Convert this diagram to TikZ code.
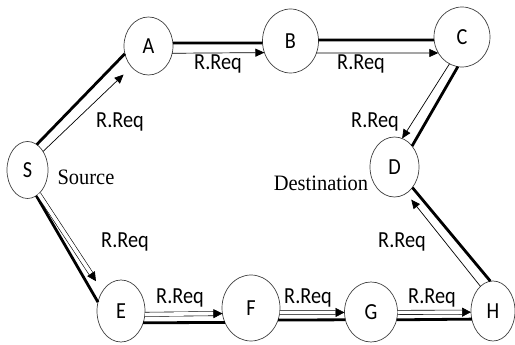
\documentclass[tikz,border=0pt]{standalone}
\usepackage{fontspec}
\setmainfont{Carlito}[FakeStretch=0.88]
\newfontfamily\timesf{Liberation Serif}[FakeStretch=0.93]
\usetikzlibrary{arrows.meta,shapes.geometric}
\begin{document}
\begin{tikzpicture}[x=1pt,y=1pt,
  nd/.style={draw=black!75, line width=0.7pt, ellipse, inner sep=0pt, outer sep=0pt, font=\fontsize{23}{23}\selectfont},
  thickl/.style={line width=2.8pt},
  req/.style={line width=0.7pt, -{Triangle[length=9pt,width=8pt]}},
  dreq/.style={double, line width=0.6pt, double distance=3.6pt, -{Triangle[length=9pt,width=9pt]}},
  lbl/.style={font=\fontsize{23}{23}\selectfont, anchor=base, inner sep=0pt},
  side/.style={font=\timesf\fontsize{22}{22}\selectfont, anchor=base, inner sep=0pt}]
\useasboundingbox (0,0) rectangle (515,345);
\node[nd, minimum width=41pt, minimum height=57pt] (S) at (27.5,175) {S};
\node[nd, minimum width=49pt, minimum height=58pt] (A) at (148.5,299) {A};
\node[nd, minimum width=56pt, minimum height=64pt] (B) at (290.5,304) {B};
\node[nd, minimum width=56pt, minimum height=60pt] (C) at (462,308) {C};
\node[nd, minimum width=49pt, minimum height=60pt] (D) at (394.5,178) {D};
\node[nd, minimum width=48pt, minimum height=62pt] (E) at (121,34) {E};
\node[nd, minimum width=58pt, minimum height=66pt] (F) at (251,37) {F};
\node[nd, minimum width=53pt, minimum height=60pt] (G) at (371,33) {G};
\node[nd, minimum width=44pt, minimum height=60pt] (H) at (493,34) {H};
% upper path
\draw[thickl] (S.70) -- (A.198);
\draw[req, shorten >=11pt] (S.50) -- (A.231);
\draw[thickl] (A.7) -- (B.184);
\draw[req] (A.343.6) -- (B.204.8);
\draw[thickl] (B.2) -- (C.186);
\draw[req] (B.335) -- (C.214);
\draw[req] (C.245) -- (D.75);
\draw[thickl] (C.262) -- (D.50);
% lower path
\draw[thickl] (S.289) -- (E.159);
\draw[dreq, shorten >=12pt] (S.295) -- (E.133);
\draw[dreq] (E.352.8) -- (F.191.9);
\draw[thickl] (E.332.2) -- (F.209.5);
\draw[dreq] (F.351.1) -- (G.181);
\draw[thickl] (F.336.1) -- (G.197.4);
\draw[dreq] (G.359) -- (H.183.9);
\draw[thickl] (G.343.7) -- (H.201.9);
\draw[req, shorten >=8pt] (H.117) -- (D.294.5);
\draw[thickl] (H.95.5) -- (D.311);
% labels
\node[lbl] (l1) at (120,217) {R.Req};
\node[lbl] (l2) at (218,275) {R.Req};
\node[lbl] (l3) at (361,275) {R.Req};
\node[lbl] (l4) at (375,217) {R.Req};
\node[lbl] (l5) at (125,97) {R.Req};
\node[lbl] (l6) at (180,41) {R.Req};
\node[lbl] (l7) at (308,41) {R.Req};
\node[lbl] (l8) at (432,41) {R.Req};
\node[lbl] (l9) at (402,97) {R.Req};
\node[side] (src) at (86,160) {Source};
\node[side] (dst) at (321,154) {Destination};
\end{tikzpicture}
\end{document}
